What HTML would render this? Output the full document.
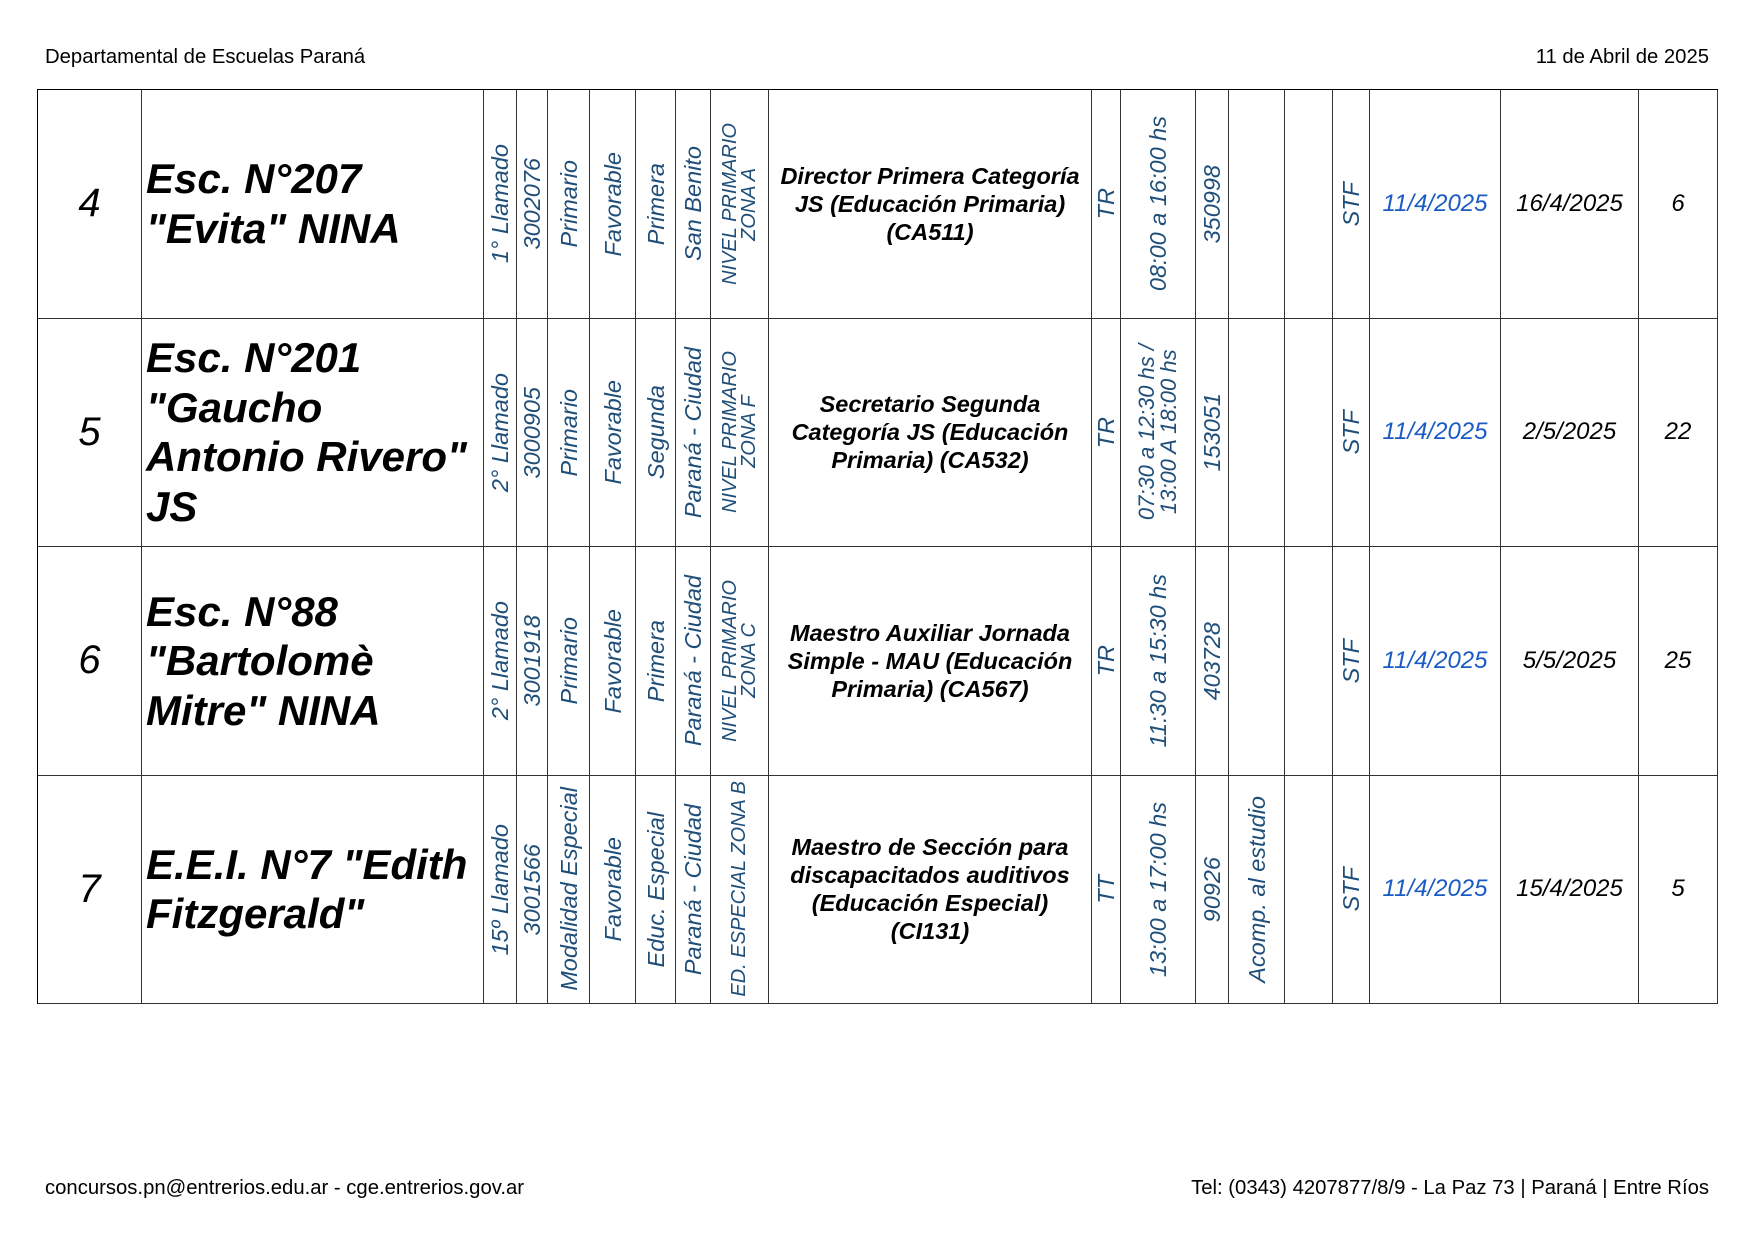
<!DOCTYPE html>
<html><head><meta charset="utf-8"><style>
body{margin:0;width:1755px;height:1240px;background:#fff;font-family:"Liberation Sans",sans-serif;position:relative;overflow:hidden}
.hd{position:absolute;font-size:20.3px;color:#000}
.g{position:absolute;left:37px;top:89px;display:grid;
grid-template-columns:104px 342px 33px 31px 42px 46px 40px 35px 58px 323px 29px 75px 33px 56px 48px 37px 131px 138px 79px;
grid-template-rows:228.5px 228.5px 228.5px 228.5px;border-left:1.5px solid #000;border-top:1.5px solid #000}
.g>div{border-right:1.5px solid #333;border-bottom:1.5px solid #333;box-sizing:border-box;display:flex;align-items:center;justify-content:center;overflow:visible;white-space:nowrap}
.n{font-size:40px;font-style:italic}
.s{font-size:42px;font-weight:bold;font-style:italic;line-height:49.5px;justify-content:flex-start!important;padding-left:4px;white-space:nowrap}
.v>span{writing-mode:vertical-rl;transform:rotate(180deg);color:#1f4e79;font-style:italic;font-size:23.5px;line-height:22px;text-align:center}
.v.sm>span{font-size:20px;line-height:19px}
.j{font-weight:bold;font-style:italic;font-size:23.5px;line-height:28px;text-align:center;white-space:nowrap}
.d{font-size:24px;font-style:italic}
.b{color:#1a5bc4}
</style></head><body>
<div class="hd" style="left:45px;top:46px">Departamental de Escuelas Paraná</div>
<div class="hd" style="right:46px;top:46px">11 de Abril de 2025</div>
<div class="g">
<div class="n">4</div><div class="s">Esc. N°207<br>"Evita" NINA</div>
<div class="v"><span>1° Llamado</span></div><div class="v"><span>3002076</span></div><div class="v"><span>Primario</span></div><div class="v"><span>Favorable</span></div><div class="v"><span>Primera</span></div><div class="v"><span>San Benito</span></div><div class="v sm"><span>NIVEL PRIMARIO<br>ZONA A</span></div>
<div class="j">Director Primera Categoría<br>JS (Educación Primaria)<br>(CA511)</div>
<div class="v"><span>TR</span></div><div class="v"><span>08:00 a 16:00 hs</span></div><div class="v"><span>350998</span></div><div></div><div></div><div class="v"><span>STF</span></div>
<div class="d b">11/4/2025</div><div class="d">16/4/2025</div><div class="d">6</div>

<div class="n">5</div><div class="s">Esc. N°201<br>"Gaucho<br>Antonio Rivero"<br>JS</div>
<div class="v"><span>2° Llamado</span></div><div class="v"><span>3000905</span></div><div class="v"><span>Primario</span></div><div class="v"><span>Favorable</span></div><div class="v"><span>Segunda</span></div><div class="v"><span>Paraná - Ciudad</span></div><div class="v sm"><span>NIVEL PRIMARIO<br>ZONA F</span></div>
<div class="j">Secretario Segunda<br>Categoría JS (Educación<br>Primaria) (CA532)</div>
<div class="v"><span>TR</span></div><div class="v"><span style="font-size:22px">07:30 a 12:30 hs /<br>13:00 A 18:00 hs</span></div><div class="v"><span>153051</span></div><div></div><div></div><div class="v"><span>STF</span></div>
<div class="d b">11/4/2025</div><div class="d">2/5/2025</div><div class="d">22</div>

<div class="n">6</div><div class="s">Esc. N°88<br>"Bartolomè<br>Mitre" NINA</div>
<div class="v"><span>2° Llamado</span></div><div class="v"><span>3001918</span></div><div class="v"><span>Primario</span></div><div class="v"><span>Favorable</span></div><div class="v"><span>Primera</span></div><div class="v"><span>Paraná - Ciudad</span></div><div class="v sm"><span>NIVEL PRIMARIO<br>ZONA C</span></div>
<div class="j">Maestro Auxiliar Jornada<br>Simple - MAU (Educación<br>Primaria) (CA567)</div>
<div class="v"><span>TR</span></div><div class="v"><span>11:30 a 15:30 hs</span></div><div class="v"><span>403728</span></div><div></div><div></div><div class="v"><span>STF</span></div>
<div class="d b">11/4/2025</div><div class="d">5/5/2025</div><div class="d">25</div>

<div class="n">7</div><div class="s">E.E.I. N°7 "Edith<br>Fitzgerald"</div>
<div class="v"><span>15º Llamado</span></div><div class="v"><span>3001566</span></div><div class="v"><span>Modalidad Especial</span></div><div class="v"><span>Favorable</span></div><div class="v"><span>Educ. Especial</span></div><div class="v"><span>Paraná - Ciudad</span></div><div class="v sm"><span>ED. ESPECIAL ZONA B</span></div>
<div class="j">Maestro de Sección para<br>discapacitados auditivos<br>(Educación Especial)<br>(CI131)</div>
<div class="v"><span>TT</span></div><div class="v"><span>13:00 a 17:00 hs</span></div><div class="v"><span>90926</span></div><div class="v"><span>Acomp. al estudio</span></div><div></div><div class="v"><span>STF</span></div>
<div class="d b">11/4/2025</div><div class="d">15/4/2025</div><div class="d">5</div>
</div>
<div class="hd" style="left:45px;top:1177px">concursos.pn@entrerios.edu.ar - cge.entrerios.gov.ar</div>
<div class="hd" style="right:46px;top:1177px">Tel: (0343) 4207877/8/9 - La Paz 73 | Paraná | Entre Ríos</div>
</body></html>
